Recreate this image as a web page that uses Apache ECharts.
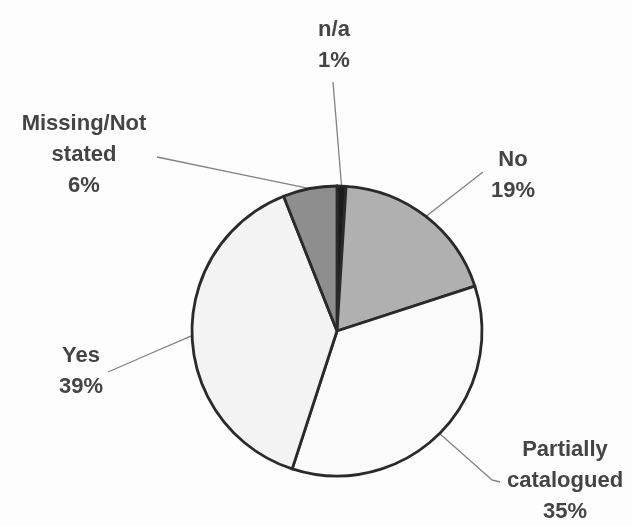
<!DOCTYPE html>
<html>
<head>
<meta charset="utf-8">
<script src="https://cdn.jsdelivr.net/npm/echarts@6/dist/echarts.min.js"></script>
<style>
html,body{margin:0;padding:0;background:#fdfdfd;}
#chart{width:632px;height:526px;}
</style>
</head>
<body>
<div id="chart"></div>
<script>
// Data (clockwise from 12 o'clock)
const categories = ["n/a", "No", "Partially\ncatalogued", "Yes", "Missing/Not\nstated"];
const values = [1, 19, 35, 39, 6];

// Styling / layout (kept separate from data)
const sliceColors = ["#1c1c1c", "#b0b0b0", "#fafafa", "#f3f3f3", "#8e8e8e"];
const labelCenters = [[334, 45], [513, 175], [565, 481], [81, 371], [84, 155]];
const lineEnds = [[[333, 82]], [[483, 172]], [[492, 480], [500, 482]], [[108, 372]], [[157, 157]]];

const chart = echarts.init(document.getElementById('chart'));
chart.setOption({
  backgroundColor: '#fdfdfd',
  animation: false,
  series: [{
    type: 'pie',
    center: [337, 331],
    radius: [0, 145],
    startAngle: 90,
    clockwise: true,
    avoidLabelOverlap: false,
    data: categories.map((c, i) => ({
      name: c,
      value: values[i],
      itemStyle: { color: sliceColors[i] }
    })),
    itemStyle: { borderColor: '#2a2a2a', borderWidth: 2.8 },
    label: {
      show: true,
      formatter: '{b}\n{d}%',
      fontFamily: 'Liberation Sans',
      fontWeight: 'bold',
      fontSize: 22,
      lineHeight: 31,
      color: '#444444',
      align: 'center'
    },
    labelLine: {
      show: true,
      lineStyle: { color: '#808080', width: 1.3 }
    },
    labelLayout: function (params) {
      const i = params.dataIndex;
      const start = params.labelLinePoints ? params.labelLinePoints[0] : null;
      const pts = start ? [start].concat(lineEnds[i]) : undefined;
      if (pts && pts.length === 2) pts.splice(1, 0, [(pts[0][0] + pts[1][0]) / 2, (pts[0][1] + pts[1][1]) / 2]);
      return {
        x: labelCenters[i][0],
        y: labelCenters[i][1],
        align: 'center',
        verticalAlign: 'middle',
        labelLinePoints: pts
      };
    }
  }]
});
</script>
</body>
</html>
